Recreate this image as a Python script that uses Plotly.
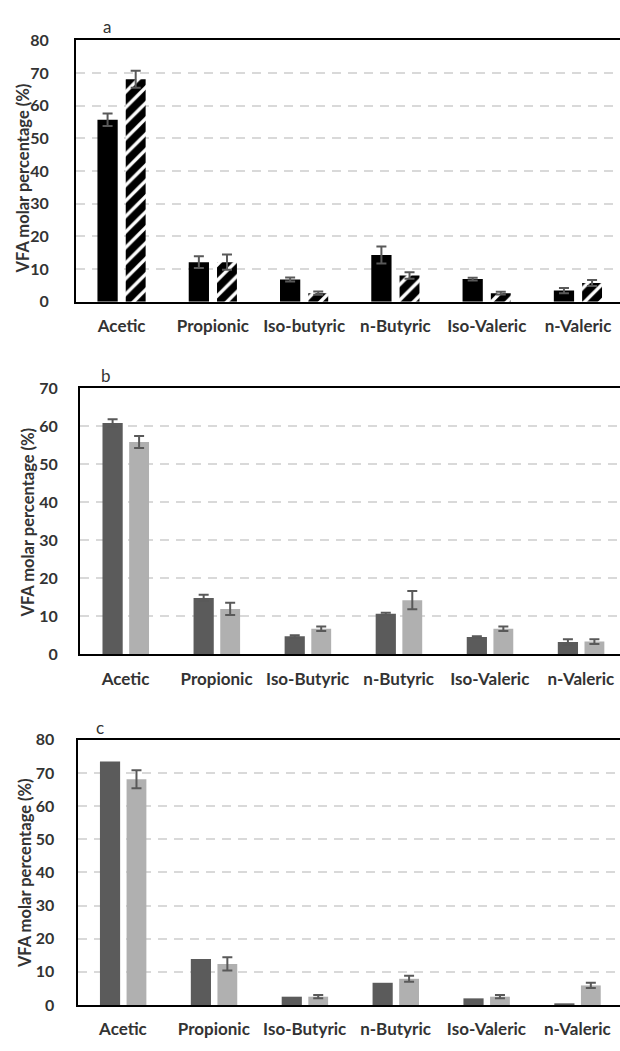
import plotly.graph_objects as go

W, H = 620, 1051

cats_a = ["Acetic", "Propionic", "Iso-butyric", "n-Butyric", "Iso-Valeric", "n-Valeric"]
cats_bc = ["Acetic", "Propionic", "Iso-Butyric", "n-Butyric", "Iso-Valeric", "n-Valeric"]

# Panel a
a_solid = [55.7, 12.1, 6.8, 14.3, 6.9, 3.4]
a_solid_err = [1.9, 1.8, 0.6, 2.6, 0.4, 0.8]
a_hatch = [68.1, 12.1, 2.6, 8.0, 2.6, 5.7]
a_hatch_err = [2.6, 2.3, 0.5, 1.0, 0.4, 0.9]

# Panel b
b_dark = [60.8, 14.8, 4.7, 10.6, 4.5, 3.2]
b_dark_err = [1.0, 0.8, 0.3, 0.3, 0.2, 0.7]
b_light = [55.8, 11.9, 6.7, 14.2, 6.7, 3.3]
b_light_err = [1.6, 1.6, 0.6, 2.4, 0.6, 0.6]

# Panel c
c_dark = [73.5, 13.9, 2.5, 6.7, 2.0, 0.5]
c_light = [68.1, 12.4, 2.5, 7.9, 2.5, 5.9]
c_light_err = [2.7, 2.0, 0.5, 0.9, 0.5, 0.8]

FONT = "Lato"
TXT = "#333333"
ERRC = "#595959"

fig = go.Figure()

def err(arr):
    return dict(type="data", array=arr, visible=True, color=ERRC, thickness=2, width=5)

# panel a traces
fig.add_trace(go.Bar(x=cats_a, y=a_solid, error_y=err(a_solid_err), marker=dict(color="#000000", line=dict(width=0)),
                     offset=-0.265, width=0.222, xaxis="x", yaxis="y", showlegend=False))
fig.add_trace(go.Bar(x=cats_a, y=a_hatch, error_y=err(a_hatch_err),
                     marker=dict(color="#ffffff", line=dict(width=0),
                                 pattern=dict(shape="/", fgcolor="#000000", bgcolor="#ffffff", size=11,
                                              solidity=0.7, fillmode="replace")),
                     offset=0.045, width=0.218, xaxis="x", yaxis="y", showlegend=False))

# panel b traces
fig.add_trace(go.Bar(x=cats_bc, y=b_dark, error_y=err(b_dark_err), marker=dict(color="#5b5b5b", line=dict(width=0)),
                     offset=-0.253, width=0.222, xaxis="x2", yaxis="y2", showlegend=False))
fig.add_trace(go.Bar(x=cats_bc, y=b_light, error_y=err(b_light_err), marker=dict(color="#b0b0b0", line=dict(width=0)),
                     offset=0.04, width=0.218, xaxis="x2", yaxis="y2", showlegend=False))

# panel c traces
fig.add_trace(go.Bar(x=cats_bc, y=c_dark, marker=dict(color="#5b5b5b", line=dict(width=0)),
                     offset=-0.253, width=0.222, xaxis="x3", yaxis="y3", showlegend=False))
fig.add_trace(go.Bar(x=cats_bc, y=c_light, error_y=err(c_light_err), marker=dict(color="#b0b0b0", line=dict(width=0)),
                     offset=0.04, width=0.218, xaxis="x3", yaxis="y3", showlegend=False))

def py(px):
    return 1 - px / H

def xax(left, rng_end, anchor):
    return dict(domain=[left / W, 1.0], range=[-0.5, rng_end], anchor=anchor,
                showline=True, linecolor="#000000", linewidth=2, mirror=True,
                showgrid=False, zeroline=False, ticks="", ticklabelstandoff=8,
                tickfont=dict(family=FONT, size=17, color=TXT, weight="bold"))

def yax(top, bottom, ymax, anchor, standoff):
    return dict(domain=[py(bottom), py(top)], range=[0, ymax], anchor=anchor, dtick=10, tick0=0,
                showline=True, linecolor="#000000", linewidth=2, mirror=False,
                showgrid=True, gridcolor="#d9d9d9", gridwidth=2, griddash="9px,7px",
                zeroline=False, ticks="", ticklabelstandoff=standoff,
                tickfont=dict(family=FONT, size=16, color=TXT, weight="bold"))

fig.update_layout(
    width=W, height=H, margin=dict(l=0, r=0, t=0, b=0),
    paper_bgcolor="#ffffff", plot_bgcolor="#ffffff",
    barmode="group",
    xaxis=xax(76, 5.46, "y"),
    yaxis=yax(31, 297, 80, "x", 22),
    xaxis2=xax(80, 5.43, "y2"),
    yaxis2=yax(385, 656, 70, "x2", 17),
    xaxis3=xax(77.5, 5.47, "y3"),
    yaxis3=yax(743.3, 1013.3, 80, "x3", 18),
)

annots = []
for (lx, ly, letter) in [(107, 17, "a"), (106, 372, "b"), (100, 731, "c")]:
    annots.append(dict(x=lx / W, y=py(ly), xref="paper", yref="paper", text=letter, showarrow=False,
                       xanchor="center", yanchor="middle", font=dict(family=FONT, size=17, color=TXT)))
for (tx, ty) in [(22.5, 172), (28, 522), (25, 879)]:
    annots.append(dict(x=tx / W, y=py(ty), xref="paper", yref="paper", text="VFA molar percentage (%)",
                       textangle=-90, showarrow=False, xanchor="center", yanchor="middle",
                       font=dict(family=FONT, size=16.5, color=TXT, weight="bold")))
fig.update_layout(annotations=annots)

fig.write_html("out.html")
